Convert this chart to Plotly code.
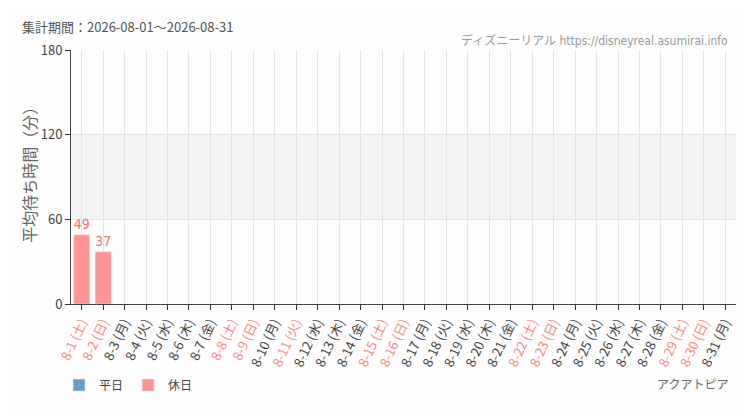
import plotly.graph_objects as go

# 2026-08 daily average wait (minutes)
days = list(range(1, 32))
weekdays = ["土", "日", "月", "火", "水", "木", "金"] * 4 + ["土", "日", "月"]
holidays = [1, 2, 8, 9, 11, 15, 16, 22, 23, 29, 30]
wait_min = [49, 37] + [None] * 29

WEEKDAY_COLOR = "#6b9bc9"
HOLIDAY_COLOR = "#ff9494"
BG = "#fdfefd"
NARROW = "DejaVu Sans Condensed, Liberation Sans Narrow, Noto Sans CJK JP"

labels = ["8-%d (%s)" % (d, w) for d, w in zip(days, weekdays)]
ticktext = []
for d, lab in zip(days, labels):
    color = "#ff8585" if d in holidays else "#444444"
    ticktext.append("<span style='color:%s'>%s</span>" % (color, lab))

weekday_vals = [None if d in holidays else v for d, v in zip(days, wait_min)]
holiday_vals = [v if d in holidays else None for d, v in zip(days, wait_min)]

fig = go.Figure()
fig.add_trace(
    go.Bar(
        x=labels,
        y=weekday_vals,
        name="平日",
        marker=dict(color=WEEKDAY_COLOR),
        text=weekday_vals,
        textposition="outside",
        textfont=dict(family=NARROW, size=14, color="#4a7fb5"),
        cliponaxis=False,
    )
)
fig.add_trace(
    go.Bar(
        x=labels,
        y=holiday_vals,
        name="休日",
        marker=dict(color=HOLIDAY_COLOR),
        text=holiday_vals,
        textposition="outside",
        textfont=dict(family=NARROW, size=14, color="#f07474"),
        cliponaxis=False,
    )
)

# light band 60-120
fig.add_hrect(y0=60, y1=120, fillcolor="#f2f3f2", line_width=0, layer="below")

# page body has an 8px margin, so the figure is sized/offset to compensate
fig.update_layout(
    width=742,
    height=402,
    margin=dict(l=63, r=14, t=42, b=105),
    paper_bgcolor=BG,
    plot_bgcolor=BG,
    barmode="overlay",
    bargap=0.25,
    font=dict(family="Noto Sans CJK JP", size=12, color="#444444"),
    xaxis=dict(
        tickmode="array",
        tickvals=labels,
        ticktext=ticktext,
        tickangle=-65,
        showgrid=True,
        gridcolor="#e4e4e4",
        ticks="outside",
        ticklen=5,
        tickcolor="#333333",
        showline=True,
        linecolor="#444444",
        tickfont=dict(size=13),
    ),
    yaxis=dict(
        range=[0, 180],
        tickvals=[0, 60, 120, 180],
        showgrid=True,
        gridcolor="#e4e4e4",
        zeroline=False,
        showline=True,
        linecolor="#444444",
        ticks="outside",
        ticklen=5,
        tickcolor="#333333",
        tickfont=dict(size=13, color="#444444"),
    ),
    legend=dict(
        orientation="h",
        x=-0.018,
        y=-0.314,
        xanchor="left",
        yanchor="middle",
        font=dict(size=12, color="#444444"),
        bgcolor="rgba(0,0,0,0)",
    ),
    annotations=[
        dict(
            text="平均待ち時間（分）",
            xref="paper", yref="paper",
            x=-0.063, y=0.525,
            xanchor="center", yanchor="middle",
            textangle=-90,
            showarrow=False,
            font=dict(size=16, color="#666666"),
        ),
        dict(
            text="集計期間：2026-08-01～2026-08-31",
            xref="paper", yref="paper",
            x=-0.077, y=1.094,
            xanchor="left", yanchor="middle",
            showarrow=False,
            font=dict(size=13, color="#555555"),
        ),
        dict(
            text="ディズニーリアル https://disneyreal.asumirai.info",
            xref="paper", yref="paper",
            x=0.991, y=1.039,
            xanchor="right", yanchor="middle",
            showarrow=False,
            font=dict(family=NARROW, size=12, color="#999999"),
        ),
        dict(
            text="アクアトピア",
            xref="paper", yref="paper",
            x=0.991, y=-0.314,
            xanchor="right", yanchor="middle",
            showarrow=False,
            font=dict(size=12, color="#666666"),
        ),
    ],
)

fig.write_html("out.html")
